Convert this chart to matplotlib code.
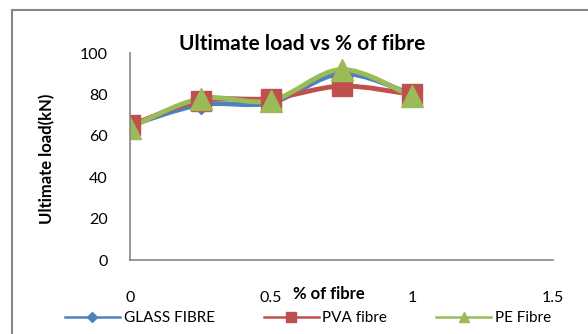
import matplotlib
matplotlib.use('Agg')
import matplotlib.pyplot as plt
from matplotlib.path import Path
from matplotlib.patches import PathPatch
from matplotlib.lines import Line2D

plt.rcParams['font.family'] = ['Lato', 'DejaVu Sans']

fibre = [0, 0.25, 0.5, 0.75, 1.0]
glass = [65, 75, 76, 90, 80]
pva = [65, 77, 78, 84, 80]
pe = [64, 78, 77, 92, 79]

xticks = [0, 0.5, 1, 1.5]
yticks = [0, 20, 40, 60, 80, 100]


def smooth_path(x, y):
    # excel style smoothed line: bezier segments through the points
    verts = [(x[0], y[0])]
    codes = [Path.MOVETO]
    n = len(x)
    for i in range(n - 1):
        x0, y0 = (x[i - 1], y[i - 1]) if i > 0 else (x[i], y[i])
        x3, y3 = (x[i + 2], y[i + 2]) if i + 2 < n else (x[i + 1], y[i + 1])
        c1 = (x[i] + (x[i + 1] - x0) / 6, y[i] + (y[i + 1] - y0) / 6)
        c2 = (x[i + 1] - (x3 - x[i]) / 6, y[i + 1] - (y3 - y[i]) / 6)
        verts += [c1, c2, (x[i + 1], y[i + 1])]
        codes += [Path.CURVE4] * 3
    return Path(verts, codes)


fig = plt.figure(figsize=(5.88, 3.34), dpi=100)
ax = fig.add_axes([130 / 588, 1 - 260 / 334, 423 / 588, 207 / 334])

series = [
    (glass, '#4F81BD', 'D', 9, 'GLASS FIBRE'),
    (pva, '#C0504D', 's', 15, 'PVA fibre'),
    (pe, '#9BBB59', '^', 16, 'PE Fibre'),
]
handles = []
for vals, col, mk, ms, lab in series:
    ax.add_patch(PathPatch(smooth_path(fibre, vals), fill=False, edgecolor=col,
                           linewidth=3.5, capstyle='round', joinstyle='round'))
    ax.plot(fibre, vals, linestyle='none', marker=mk, markersize=ms,
            color=col, markeredgecolor=col)
    handles.append(Line2D([], [], color=col, linewidth=1.8, marker=mk,
                          markersize=7 if mk != 'D' else 5.5, label=lab))

ax.set_xlim(0, 1.5)
ax.set_ylim(0, 100)
ax.set_xticks(xticks)
ax.set_xticklabels(['0', '0.5', '1', '1.5'])
ax.set_yticks(yticks)
ax.tick_params(length=0, labelsize=11.5)
ax.tick_params(axis='x', pad=22)
ax.tick_params(axis='y', pad=16)
for s in ['top', 'right']:
    ax.spines[s].set_visible(False)
for s in ['left', 'bottom']:
    ax.spines[s].set_color('#868686')
    ax.spines[s].set_linewidth(1.2)

fig.text(302 / 588, 1 - 44 / 334, 'Ultimate load vs % of fibre', ha='center',
         va='center', fontsize=15, fontweight='bold')
fig.text(329 / 588, 1 - 294 / 334, '% of fibre', ha='center', va='center',
         fontsize=12, fontweight='bold')
fig.text(47 / 588, 1 - 159 / 334, 'Ultimate load(kN)', ha='center', va='center',
         rotation=90, fontsize=12, fontweight='bold')

fig.legend(handles=handles, loc='center', bbox_to_anchor=(308 / 588, 1 - 318 / 334),
           ncol=3, frameon=False, fontsize=11, handlelength=3.6,
           columnspacing=3.2, handletextpad=0.25, borderaxespad=0, borderpad=0)

# outer chart border (only top and left visible)
fig.add_artist(Line2D([11.5 / 588, 11.5 / 588], [0, 1 - 9.5 / 334],
                      color='#868686', linewidth=1.5))
fig.add_artist(Line2D([11.5 / 588, 1], [1 - 9.5 / 334, 1 - 9.5 / 334],
                      color='#868686', linewidth=1.5))

fig.savefig('out.png', dpi=100)
